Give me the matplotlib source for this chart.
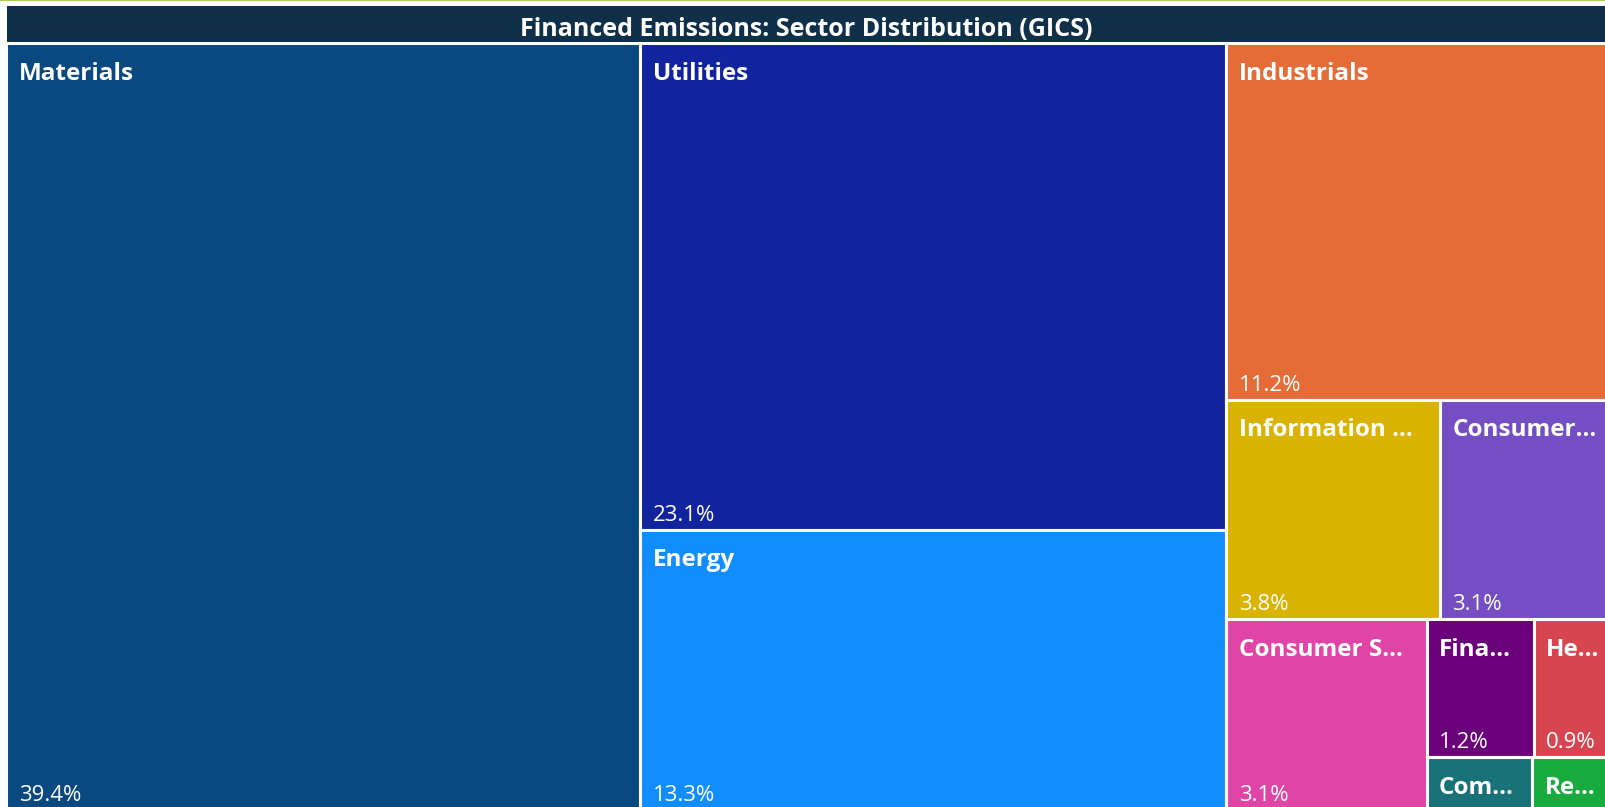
import matplotlib
matplotlib.use('Agg')
import matplotlib.pyplot as plt
from matplotlib.patches import Rectangle

# dados (% das emissões financiadas por setor GICS)
setores = ['Materials', 'Utilities', 'Energy', 'Industrials', 'Information Technology',
           'Consumer Discretionary', 'Consumer Staples', 'Financials', 'Health Care',
           'Communication Services', 'Real Estate']
rotulos = ['Materials', 'Utilities', 'Energy', 'Industrials', 'Information ...',
           'Consumer...', 'Consumer S...', 'Fina...', 'He...', 'Com...', 'Re...']
percentuais = [39.4, 23.1, 13.3, 11.2, 3.8, 3.1, 3.1, 1.2, 0.9, 0.45, 0.35]
cores = ['#0A4880', '#12239E', '#118DFF', '#E66C37', '#D9B300', '#744EC2',
         '#E044A7', '#6B007B', '#D64550', '#197278', '#1AAB40']
titulo = 'Financed Emissions: Sector Distribution (GICS)'

FONTE = ['Open Sans', 'DejaVu Sans']
LARG, ALT = 200.0, 100.0   # espaço do layout (proporção 2:1)


def _pior(linha, lado):
    s = sum(linha)
    return max(max(lado * lado * r / (s * s), s * s / (lado * lado * r)) for r in linha)


def _assentar(linha, x, y, w, h):
    s = sum(linha)
    rects = []
    if w >= h:
        cw = s / h
        yy = y
        for r in linha:
            rects.append((x, yy, cw, r / cw)); yy += r / cw
        return rects, (x + cw, y, w - cw, h)
    rh = s / w
    xx = x
    for r in linha:
        rects.append((xx, y, r / rh, rh)); xx += r / rh
    return rects, (x, y + rh, w, h - rh)


def squarify(valores, x, y, w, h):
    total = sum(valores)
    areas = [v * w * h / total for v in valores]
    rects, linha, i = [], [], 0
    while i < len(areas):
        lado = min(w, h)
        a = areas[i]
        if not linha or _pior(linha + [a], lado) <= _pior(linha, lado):
            linha.append(a); i += 1
        else:
            r, (x, y, w, h) = _assentar(linha, x, y, w, h)
            rects += r; linha = []
    if linha:
        rects += _assentar(linha, x, y, w, h)[0]
    return rects


W_PX, H_PX = 1606, 807
fig = plt.figure(figsize=(W_PX / 100, H_PX / 100), dpi=100)
fig.patch.set_facecolor('white')

# faixa verde no topo
fig.patches.append(Rectangle((0, 1 - 1.4 / H_PX), 1, 1.4 / H_PX, transform=fig.transFigure,
                             facecolor='#A6D05A', edgecolor='none'))

# barra do título
ax_t = fig.add_axes([7 / W_PX, 1 - 42 / H_PX, 1 - 7 / W_PX, 36 / H_PX])
ax_t.set_facecolor('#10304A')
ax_t.set_xticks([]); ax_t.set_yticks([])
for s in ax_t.spines.values():
    s.set_visible(False)
ax_t.text(0.5, 6.3 / 36, titulo, ha='center', va='baseline', color='white',
          fontsize=18, fontweight='bold', family=FONTE, transform=ax_t.transAxes)

# treemap (a área vai um pouco além da borda da imagem, como no original)
x0, x1, y0, y1 = 6.5, 1614, 43.5, 810
ax = fig.add_axes([x0 / W_PX, 1 - y1 / H_PX, (x1 - x0) / W_PX, (y1 - y0) / H_PX])
ax.set_xlim(0, LARG); ax.set_ylim(ALT, 0)
ax.axis('off')

escala_y = (y1 - y0) / ALT
for (rx, ry, rw, rh), rot, pct, cor in zip(squarify(percentuais, 0, 0, LARG, ALT),
                                          rotulos, percentuais, cores):
    ax.add_patch(Rectangle((rx, ry), rw, rh, facecolor=cor, edgecolor='white', linewidth=2.2))
    ax.annotate(rot, (rx, ry), xytext=(9, -26.3), textcoords='offset points',
                ha='left', va='baseline', color='white', fontsize=17.5,
                fontweight='bold', family=FONTE)
    if rh * escala_y > 70:
        ax.annotate(f'{pct:.1f}%', (rx, ry + rh), xytext=(9, 6.5), textcoords='offset points',
                    ha='left', va='baseline', color='white', fontsize=16, family=FONTE)

plt.savefig('out.png', dpi=100)
plt.close()
